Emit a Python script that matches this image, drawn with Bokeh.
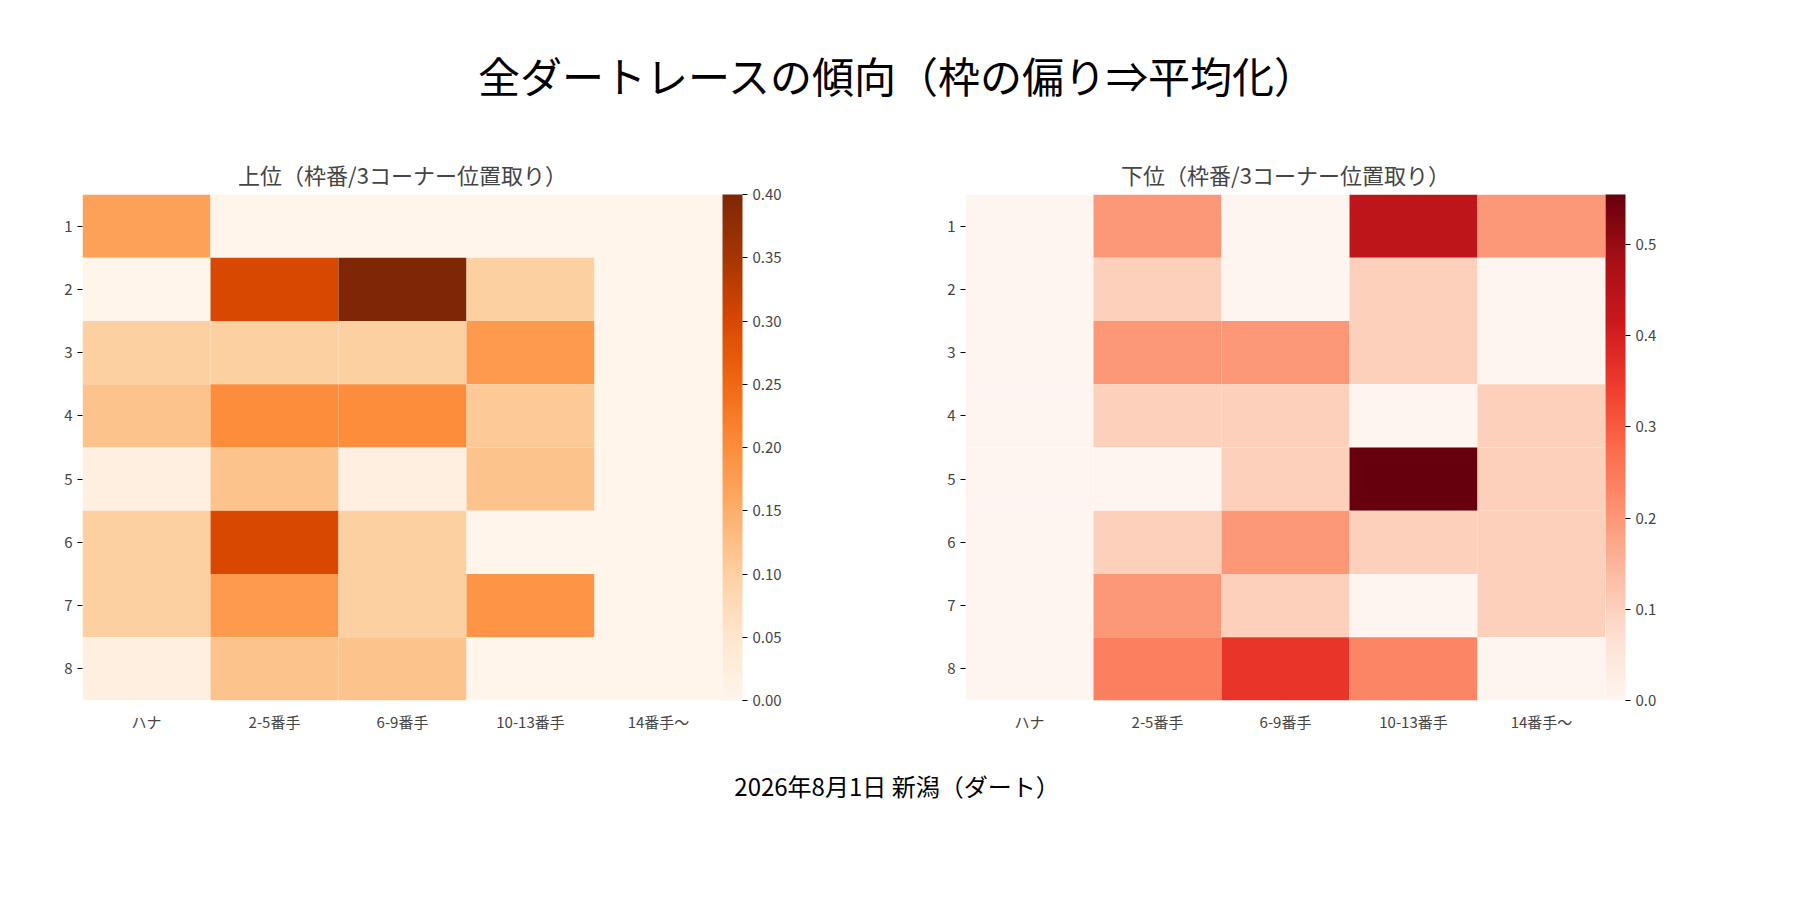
from bokeh.plotting import figure
from bokeh.models import ColumnDataSource, ColorBar, LinearColorMapper, FixedTicker, Div, PrintfTickFormatter
from bokeh.layouts import column, row
from bokeh.palettes import Oranges256, Reds256
from bokeh.embed import file_html
from bokeh.resources import INLINE

FONT = "Noto Sans CJK JP"
rows = ["1", "2", "3", "4", "5", "6", "7", "8"]
cols = ["ハナ", "2-5番手", "6-9番手", "10-13番手", "14番手〜"]
upper = [
    [0.17, 0.00, 0.00, 0.00, 0.00],
    [0.00, 0.30, 0.40, 0.10, 0.00],
    [0.10, 0.10, 0.10, 0.18, 0.00],
    [0.12, 0.20, 0.20, 0.11, 0.00],
    [0.02, 0.12, 0.02, 0.12, 0.00],
    [0.10, 0.30, 0.10, 0.00, 0.00],
    [0.10, 0.18, 0.10, 0.19, 0.00],
    [0.02, 0.12, 0.12, 0.00, 0.00],
]
lower = [
    [0.00, 0.20, 0.00, 0.44, 0.20],
    [0.00, 0.10, 0.00, 0.10, 0.00],
    [0.00, 0.20, 0.20, 0.10, 0.00],
    [0.00, 0.10, 0.10, 0.00, 0.10],
    [0.00, 0.00, 0.10, 0.555, 0.10],
    [0.00, 0.10, 0.20, 0.10, 0.10],
    [0.00, 0.20, 0.10, 0.00, 0.10],
    [0.00, 0.24, 0.36, 0.23, 0.00],
]

def heat(title, data, palette, high, ticks, fmt, left):
    xs, ys, vs = [], [], []
    for i, r in enumerate(rows):
        for j, c in enumerate(cols):
            xs.append(c); ys.append(r); vs.append(data[i][j])
    src = ColumnDataSource(dict(x=xs, y=ys, v=vs))
    mapper = LinearColorMapper(palette=list(reversed(palette)), low=0, high=high)
    p = figure(x_range=cols, y_range=list(reversed(rows)), output_backend="svg",
               toolbar_location=None, frame_width=640, frame_height=506,
               min_border_left=left, min_border_right=162, min_border_top=10,
               title=title)
    p.rect("x", "y", 1, 1, source=src, fill_color={"field": "v", "transform": mapper},
           line_color=None)
    p.title.text_font = FONT
    p.title.text_font_size = "22px"
    p.title.text_font_style = "normal"
    p.title.align = "center"
    p.outline_line_color = None
    p.grid.grid_line_color = None
    for ax in (p.xaxis[0], p.yaxis[0]):
        ax.axis_line_color = None
        ax.major_label_text_font = FONT
        ax.major_label_text_font_size = "15px"
        ax.major_tick_out = 5
        ax.major_tick_in = 0
        ax.minor_tick_line_color = None
    p.xaxis.major_tick_line_color = None
    cb = ColorBar(color_mapper=mapper, ticker=FixedTicker(ticks=ticks),
                  formatter=PrintfTickFormatter(format=fmt), width=20,
                  margin=40, padding=0, major_label_text_font_size="15px",
                  major_label_text_font=FONT, border_line_color=None,
                  major_tick_out=5, major_tick_in=0, major_tick_line_color="black",
                  bar_line_color=None)
    p.add_layout(cb, "right")
    return p

p1 = heat("上位（枠番/3コーナー位置取り）", upper, Oranges256, 0.40,
          [0, .05, .1, .15, .2, .25, .3, .35, .4], "%.2f", 82)
p2 = heat("下位（枠番/3コーナー位置取り）", lower, Reds256, 0.555,
          [0, .1, .2, .3, .4, .5], "%.1f", 81)

title = Div(text="全ダートレースの傾向（枠の偏り⇒平均化）", width=1784, height=140,
            styles={"font-family": FONT, "font-size": "42px", "text-align": "center",
                    "width": "1784px", "padding-top": "40px"})
foot = Div(text="2026年8月1日 新潟（ダート）", width=1784, height=60,
           styles={"font-family": FONT, "font-size": "24px", "text-align": "center",
                   "width": "1784px", "padding-top": "30px"})
layout = column(title, row(p1, p2), foot)
open("out.html", "w").write(file_html(layout, INLINE))
